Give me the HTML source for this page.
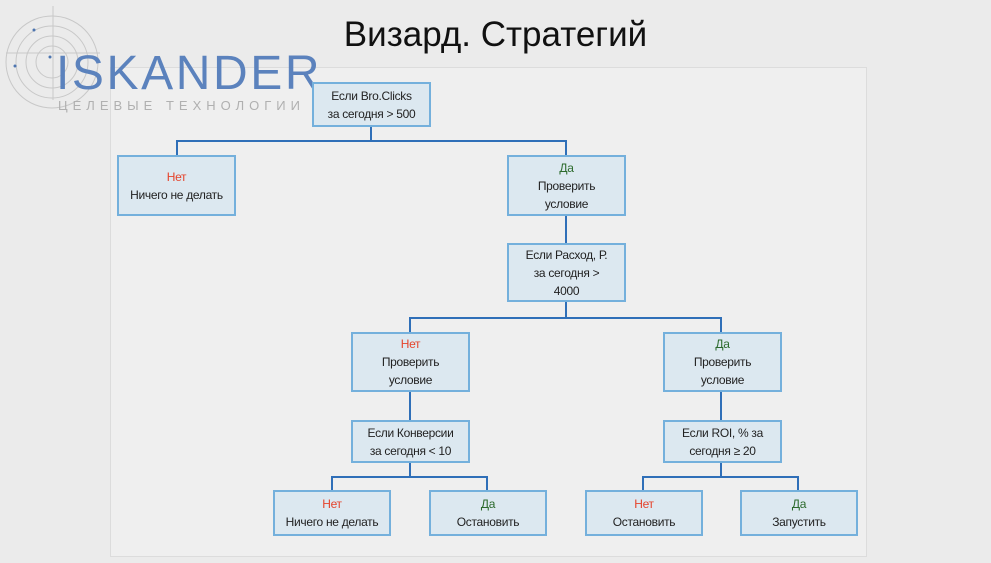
<!DOCTYPE html>
<html><head><meta charset="utf-8"><style>
body{margin:0;width:991px;height:563px;background:#ebebeb;position:relative;overflow:hidden;font-family:"Liberation Sans",sans-serif}
.panel{position:absolute;left:110px;top:67px;width:755px;height:488px;background:#efefef;border:1px solid #dcdcdc}
.b{position:absolute;box-sizing:border-box;background:#dce8f0;border:2px solid #74b0dc;display:flex;flex-direction:column;align-items:center;justify-content:center;text-align:center;font-size:12px;line-height:18px;color:#222;letter-spacing:-0.3px}
.r{color:#e5432b}.g{color:#2c6a2c}
.l{position:absolute;background:#2f6fb8}
</style></head><body>
<div class="panel"></div>
<svg style="position:absolute;left:0;top:0" width="120" height="110">
<g fill="none" stroke="#c8c8c8" stroke-width="1">
<circle cx="52" cy="62" r="46"/><circle cx="52" cy="62" r="36"/><circle cx="52" cy="62" r="26"/><circle cx="52" cy="62" r="16"/>
<line x1="6" y1="53" x2="100" y2="53"/><line x1="53" y1="6" x2="53" y2="100"/></g>
<circle cx="34" cy="30" r="1.5" fill="#4d75b0"/><circle cx="15" cy="66" r="1.5" fill="#4d75b0"/><circle cx="50" cy="57" r="1.5" fill="#4d75b0"/>
</svg>
<div style="position:absolute;left:56px;top:49px;font-size:48px;color:#5b82bd;letter-spacing:2.6px;line-height:50px">ISKANDER</div>
<div style="position:absolute;left:58px;top:99px;font-size:13px;color:#b0b0b0;letter-spacing:5px;line-height:14px">ЦЕЛЕВЫЕ ТЕХНОЛОГИИ</div>
<div style="position:absolute;left:0;width:991px;top:14px;text-align:center;font-size:35px;color:#111;line-height:42px">Визард. Стратегий</div>

<div class="l" style="left:370px;top:127px;width:2px;height:15px"></div>
<div class="l" style="left:176px;top:140px;width:391px;height:2px"></div>
<div class="l" style="left:176px;top:140px;width:2px;height:15px"></div>
<div class="l" style="left:565px;top:140px;width:2px;height:15px"></div>
<div class="l" style="left:565px;top:215px;width:2px;height:28px"></div>
<div class="l" style="left:565px;top:302px;width:2px;height:16px"></div>
<div class="l" style="left:409px;top:317px;width:313px;height:2px"></div>
<div class="l" style="left:409px;top:317px;width:2px;height:15px"></div>
<div class="l" style="left:720px;top:317px;width:2px;height:15px"></div>
<div class="l" style="left:409px;top:392px;width:2px;height:28px"></div>
<div class="l" style="left:720px;top:392px;width:2px;height:28px"></div>
<div class="l" style="left:409px;top:463px;width:2px;height:14px"></div>
<div class="l" style="left:720px;top:463px;width:2px;height:14px"></div>
<div class="l" style="left:331px;top:476px;width:157px;height:2px"></div>
<div class="l" style="left:642px;top:476px;width:157px;height:2px"></div>
<div class="l" style="left:331px;top:476px;width:2px;height:14px"></div>
<div class="l" style="left:486px;top:476px;width:2px;height:14px"></div>
<div class="l" style="left:642px;top:476px;width:2px;height:14px"></div>
<div class="l" style="left:797px;top:476px;width:2px;height:14px"></div>

<div class="b" style="left:312px;top:82px;width:119px;height:45px"><div>Если Bro.Clicks</div><div>за сегодня &gt; 500</div></div>
<div class="b" style="left:117px;top:155px;width:119px;height:61px"><div class="r">Нет</div><div>Ничего не делать</div></div>
<div class="b" style="left:507px;top:155px;width:119px;height:61px"><div class="g">Да</div><div>Проверить</div><div>условие</div></div>
<div class="b" style="left:507px;top:243px;width:119px;height:59px"><div>Если Расход, Р.</div><div>за сегодня &gt;</div><div>4000</div></div>
<div class="b" style="left:351px;top:332px;width:119px;height:60px"><div class="r">Нет</div><div>Проверить</div><div>условие</div></div>
<div class="b" style="left:663px;top:332px;width:119px;height:60px"><div class="g">Да</div><div>Проверить</div><div>условие</div></div>
<div class="b" style="left:351px;top:420px;width:119px;height:43px"><div>Если Конверсии</div><div>за сегодня &lt; 10</div></div>
<div class="b" style="left:663px;top:420px;width:119px;height:43px"><div>Если ROI, % за</div><div>сегодня ≥ 20</div></div>
<div class="b" style="left:273px;top:490px;width:118px;height:46px"><div class="r">Нет</div><div>Ничего не делать</div></div>
<div class="b" style="left:429px;top:490px;width:118px;height:46px"><div class="g">Да</div><div>Остановить</div></div>
<div class="b" style="left:585px;top:490px;width:118px;height:46px"><div class="r">Нет</div><div>Остановить</div></div>
<div class="b" style="left:740px;top:490px;width:118px;height:46px"><div class="g">Да</div><div>Запустить</div></div>
</body></html>
